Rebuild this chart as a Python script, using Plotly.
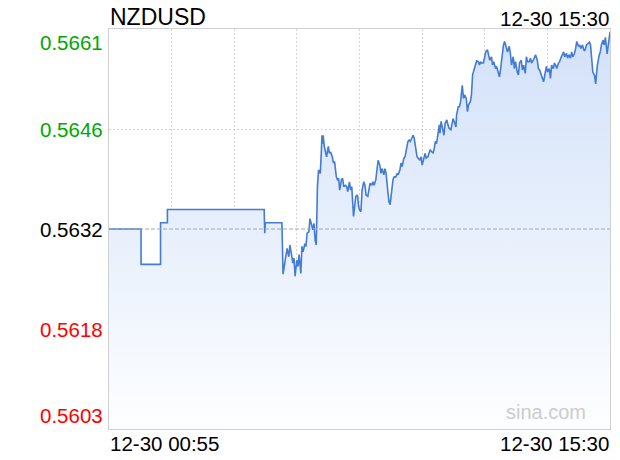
import plotly.graph_objects as go

# ---- data (minutes after 12-30 00:55, price) ----
minutes = [0, 56, 56, 90, 90, 102, 102, 271, 272, 273, 302,
           303, 304, 307, 309, 311, 314, 316, 318, 321, 323, 325, 328, 330, 332, 335, 337, 339, 342, 344,
           346, 349, 351, 353, 356, 358, 360, 362, 363, 364, 366, 369, 371, 372, 373, 374, 376, 378, 380,
           383, 385, 387, 390, 392, 394, 397, 399, 401, 403, 406, 408, 410, 413, 415, 417, 420, 422, 424,
           427, 429, 431, 434, 436, 438, 440, 442, 445, 447, 449, 452, 454, 456, 459, 461, 463, 466, 468,
           470, 473, 475, 477, 480, 482, 484, 487, 489, 491, 494, 496, 498, 501, 503, 505, 508, 510, 512,
           515, 517, 519, 522, 524, 526, 529, 531, 533, 536, 538, 540, 543, 545, 547, 550, 552, 554, 557,
           559, 561, 564, 566, 568, 570, 572, 575, 577, 578, 580, 583, 585, 587, 590, 592, 594, 597, 599,
           601, 604, 606, 607, 610, 612, 614, 617, 619, 621, 624, 626, 628, 631, 633, 635, 638, 640, 642,
           645, 647, 649, 651, 654, 656, 658, 661, 663, 665, 668, 670, 672, 675, 677, 679, 682, 684, 686,
           689, 691, 694, 696, 699, 701, 703, 706, 708, 710, 713, 715, 717, 720, 722, 724, 727, 729, 731,
           734, 736, 738, 741, 743, 745, 748, 750, 752, 755, 757, 759, 762, 764, 766, 769, 771, 773, 776,
           778, 780, 782, 785, 787, 789, 792, 794, 796, 799, 801, 803, 806, 808, 810, 813, 815, 817, 820,
           822, 824, 827, 829, 831, 834, 837, 839, 841, 843, 845, 848, 850, 851, 853, 856, 858, 860, 863,
           865, 867, 870, 872, 875]
prices = [0.56320, 0.56320, 0.56269, 0.56269, 0.56329, 0.56329, 0.56348, 0.56348, 0.56314, 0.56329, 0.56329,
          0.56268, 0.56255, 0.56271, 0.56285, 0.56292, 0.56280, 0.56297, 0.56287, 0.56271, 0.56278, 0.56252,
          0.56275, 0.56266, 0.56283, 0.56256, 0.56295, 0.56287, 0.56299, 0.56295,
          0.56314, 0.56316, 0.56335, 0.56328, 0.56319, 0.56328, 0.56304, 0.56297, 0.56347, 0.56381, 0.56405,
          0.56400, 0.56434, 0.56455, 0.56443, 0.56455, 0.56439, 0.56431, 0.56424,
          0.56439, 0.56429, 0.56431, 0.56424, 0.56415, 0.56417, 0.56395, 0.56391, 0.56393, 0.56376, 0.56391,
          0.56393, 0.56381, 0.56383, 0.56381, 0.56374, 0.56388, 0.56376, 0.56381,
          0.56338, 0.56352, 0.56367, 0.56369, 0.56352, 0.56347, 0.56345, 0.56376, 0.56388, 0.56383, 0.56369,
          0.56367, 0.56376, 0.56386, 0.56383, 0.56388, 0.56383, 0.56391, 0.56405,
          0.56419, 0.56412, 0.56400, 0.56407, 0.56398, 0.56407, 0.56400, 0.56374, 0.56359, 0.56355, 0.56376,
          0.56391, 0.56395, 0.56395, 0.56400, 0.56398, 0.56405, 0.56415, 0.56410,
          0.56422, 0.56424, 0.56434, 0.56446, 0.56448, 0.56446, 0.56451, 0.56455, 0.56451, 0.56429, 0.56424,
          0.56422, 0.56419, 0.56424, 0.56412, 0.56422, 0.56429, 0.56422, 0.56424,
          0.56429, 0.56434, 0.56431, 0.56429, 0.56436, 0.56446, 0.56443, 0.56460, 0.56470, 0.56458, 0.56475,
          0.56463, 0.56455, 0.56472, 0.56477, 0.56470, 0.56465, 0.56463, 0.56472,
          0.56479, 0.56472, 0.56467, 0.56484, 0.56496, 0.56496, 0.56503, 0.56527, 0.56508, 0.56513, 0.56508,
          0.56489, 0.56499, 0.56503, 0.56513, 0.56542, 0.56551, 0.56556, 0.56562,
          0.56561, 0.56556, 0.56561, 0.56559, 0.56559, 0.56568, 0.56575, 0.56578, 0.56571, 0.56563, 0.56568,
          0.56556, 0.56561, 0.56551, 0.56554, 0.56546, 0.56539, 0.56551, 0.56568,
          0.56585, 0.56590, 0.56580, 0.56575, 0.56583, 0.56573, 0.56556, 0.56568, 0.56551, 0.56561, 0.56546,
          0.56542, 0.56559, 0.56563, 0.56549, 0.56556, 0.56544, 0.56568, 0.56561,
          0.56561, 0.56566, 0.56559, 0.56563, 0.56566, 0.56571, 0.56563, 0.56551, 0.56549, 0.56542, 0.56539,
          0.56532, 0.56546, 0.56554, 0.56546, 0.56551, 0.56537, 0.56556, 0.56551,
          0.56559, 0.56556, 0.56551, 0.56559, 0.56561, 0.56566, 0.56573, 0.56575, 0.56568, 0.56573, 0.56566,
          0.56571, 0.56566, 0.56575, 0.56568, 0.56573, 0.56580, 0.56590, 0.56583,
          0.56585, 0.56580, 0.56585, 0.56578, 0.56577, 0.56585, 0.56587, 0.56589, 0.56585, 0.56570, 0.56546,
          0.56541, 0.56529, 0.56539, 0.56556, 0.56570, 0.56575, 0.56585, 0.56592,
          0.56585, 0.56596, 0.56572, 0.56589, 0.56604]

prev_close = 0.5632
y_min, y_max = 0.56032, 0.56608
x_end = 875
ytick_vals = [0.56608, 0.56464, 0.5632, 0.56176, 0.56032]
ytick_text = ["0.5661", "0.5646", "0.5632", "0.5618", "0.5603"]
ytick_colors = ["#00a800", "#00a800", "#000000", "#ff0000", "#ff0000"]
title_text = "NZDUSD"
start_label = "12-30 00:55"
end_label = "12-30 15:30"
watermark = "sina.com"

FONT = "Liberation Sans, Arial, sans-serif"

fig = go.Figure()
fig.add_trace(go.Scatter(
    x=minutes, y=prices, mode="lines",
    line=dict(color="#437bd6", width=1.6),
    fill="tozeroy",
    fillgradient=dict(type="vertical", start=y_min, stop=y_max,
                      colorscale=[[0, "#fdfeff"], [1, "#d2e1f9"]]),
    hoverinfo="skip", showlegend=False,
))

fig.add_shape(type="line", xref="x", yref="y", x0=0, x1=x_end, y0=prev_close, y1=prev_close,
              line=dict(color="#a8a8a8", width=1, dash="4px,2px"), layer="above")

annotations = []
for v, t, c in zip(ytick_vals, ytick_text, ytick_colors):
    if v == ytick_vals[0]:
        ya = "top"
    elif v == ytick_vals[-1]:
        ya = "bottom"
    else:
        ya = "middle"
    annotations.append(dict(x=0, xref="paper", y=v, yref="y", text=t, showarrow=False,
                            xanchor="right", yanchor=ya, xshift=-4,
                            font=dict(family=FONT, size=20.5, color=c)))
annotations += [
    dict(x=0, xref="paper", y=1, yref="paper", text=title_text, showarrow=False,
         xanchor="left", yanchor="middle", yshift=12, xshift=-1,
         font=dict(family=FONT, size=23, color="#000")),
    dict(x=1, xref="paper", y=1, yref="paper", text=end_label, showarrow=False,
         xanchor="right", yanchor="middle", yshift=11, xshift=1,
         font=dict(family=FONT, size=20.5, color="#000")),
    dict(x=0, xref="paper", y=0, yref="paper", text=start_label, showarrow=False,
         xanchor="left", yanchor="middle", yshift=-14, xshift=-1,
         font=dict(family=FONT, size=20.5, color="#000")),
    dict(x=1, xref="paper", y=0, yref="paper", text=end_label, showarrow=False,
         xanchor="right", yanchor="middle", yshift=-14, xshift=1,
         font=dict(family=FONT, size=20.5, color="#000")),
    dict(x=0.957, xref="paper", y=0, yref="paper", text=watermark, showarrow=False,
         xanchor="right", yanchor="bottom", yshift=4,
         font=dict(family=FONT, size=20, color="#cccccc")),
]

fig.update_layout(
    width=620, height=460,
    margin=dict(l=109, r=10, t=29, b=31),
    paper_bgcolor="white", plot_bgcolor="white",
    annotations=annotations,
    xaxis=dict(range=[0, x_end], tickvals=[x_end * i / 8 for i in range(1, 8)],
               showticklabels=False, ticks="", showgrid=True, gridcolor="#d4d4d4",
               griddash="2px,2px", gridwidth=1, zeroline=False,
               showline=True, mirror=True, linecolor="#d0d0d0", linewidth=1),
    yaxis=dict(range=[y_min, y_max], tickvals=[ytick_vals[1], ytick_vals[3]],
               showticklabels=False, ticks="", showgrid=True, gridcolor="#d4d4d4",
               griddash="2px,2px", gridwidth=1, zeroline=False,
               showline=True, mirror=True, linecolor="#d0d0d0", linewidth=1),
)

fig.write_html("out.html",
               config={"displayModeBar": False, "staticPlot": True},
               post_script="document.body.style.margin='0';document.body.style.overflow='hidden';")
